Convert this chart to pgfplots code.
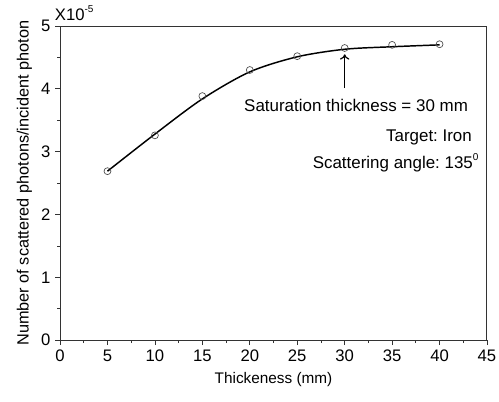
\documentclass[border=0pt]{standalone}
\usepackage{pgfplots}
\pgfplotsset{compat=1.18}
\usetikzlibrary{arrows.meta}
\usepackage{fontspec}
\setmainfont{Liberation Sans}
\frenchspacing
\newcommand{\smallsup}[1]{\raisebox{0.9ex}{\fontsize{7.5}{8}\selectfont #1}}
\begin{document}
\begin{tikzpicture}
\begin{axis}[
  scale only axis,
  width=320pt, height=235.5pt,
  xmin=0, xmax=45, ymin=0, ymax=5,
  xtick={0,5,...,45}, ytick={0,1,...,5},
  minor x tick num=1, minor y tick num=1,
  tick pos=left, tick align=outside,
  major tick length=3.75pt, minor tick length=2.25pt,
  axis line style={line width=0.75pt, black!80},
  every tick/.style={line width=0.6pt, black!80},
  /pgf/number format/assume math mode=true,
  ticklabel style={font=\fontsize{12.5}{14}\selectfont},
  xlabel={Thickeness (mm)},
  ylabel={Number of scattered photons/incident photon},
  xlabel style={font=\fontsize{11.5}{13}\selectfont, yshift=-1pt},
  ylabel style={font=\fontsize{12.2}{14}\selectfont, yshift=0pt},
  clip=false,
]
% fitted curve
\addplot[black, line width=1.1pt, smooth, tension=0.5] coordinates {
  (5,2.69) (10,3.28) (15,3.84) (20,4.27) (25,4.51) (30,4.63) (35,4.67) (40,4.70)
};
% measured points
\addplot[only marks, mark=o, mark size=2.6pt, black!70, mark options={line width=0.5pt}] coordinates {
  (5,2.69) (10,3.26) (15,3.885) (20,4.30) (25,4.52) (30,4.65) (35,4.70) (40,4.71)
};
\draw[-{To[length=4pt,width=7pt]}, line width=0.9pt] (axis cs:30,4.01) -- (axis cs:30,4.55);
\node[font=\fontsize{12.7}{14}\selectfont] at (axis cs:31.2,3.73) {Saturation thickness = 30 mm};
\node[anchor=east, font=\fontsize{12.7}{14}\selectfont] at (axis cs:43.9,3.22) {Target: Iron};
\node[anchor=east, font=\fontsize{12.7}{14}\selectfont] at (axis cs:44.6,2.83) {Scattering angle: 135\smallsup{0}};
\node[anchor=south west, font=\fontsize{12.5}{14}\selectfont, inner sep=0pt] at ([xshift=-4pt,yshift=4pt]rel axis cs:0,1) {X10\smallsup{-5}};
\end{axis}
\pgfresetboundingbox
\path[use as bounding box] ([xshift=-45pt,yshift=-45.75pt]current axis.south west) rectangle ([xshift=9pt,yshift=19.5pt]current axis.north east);
\end{tikzpicture}
\end{document}
